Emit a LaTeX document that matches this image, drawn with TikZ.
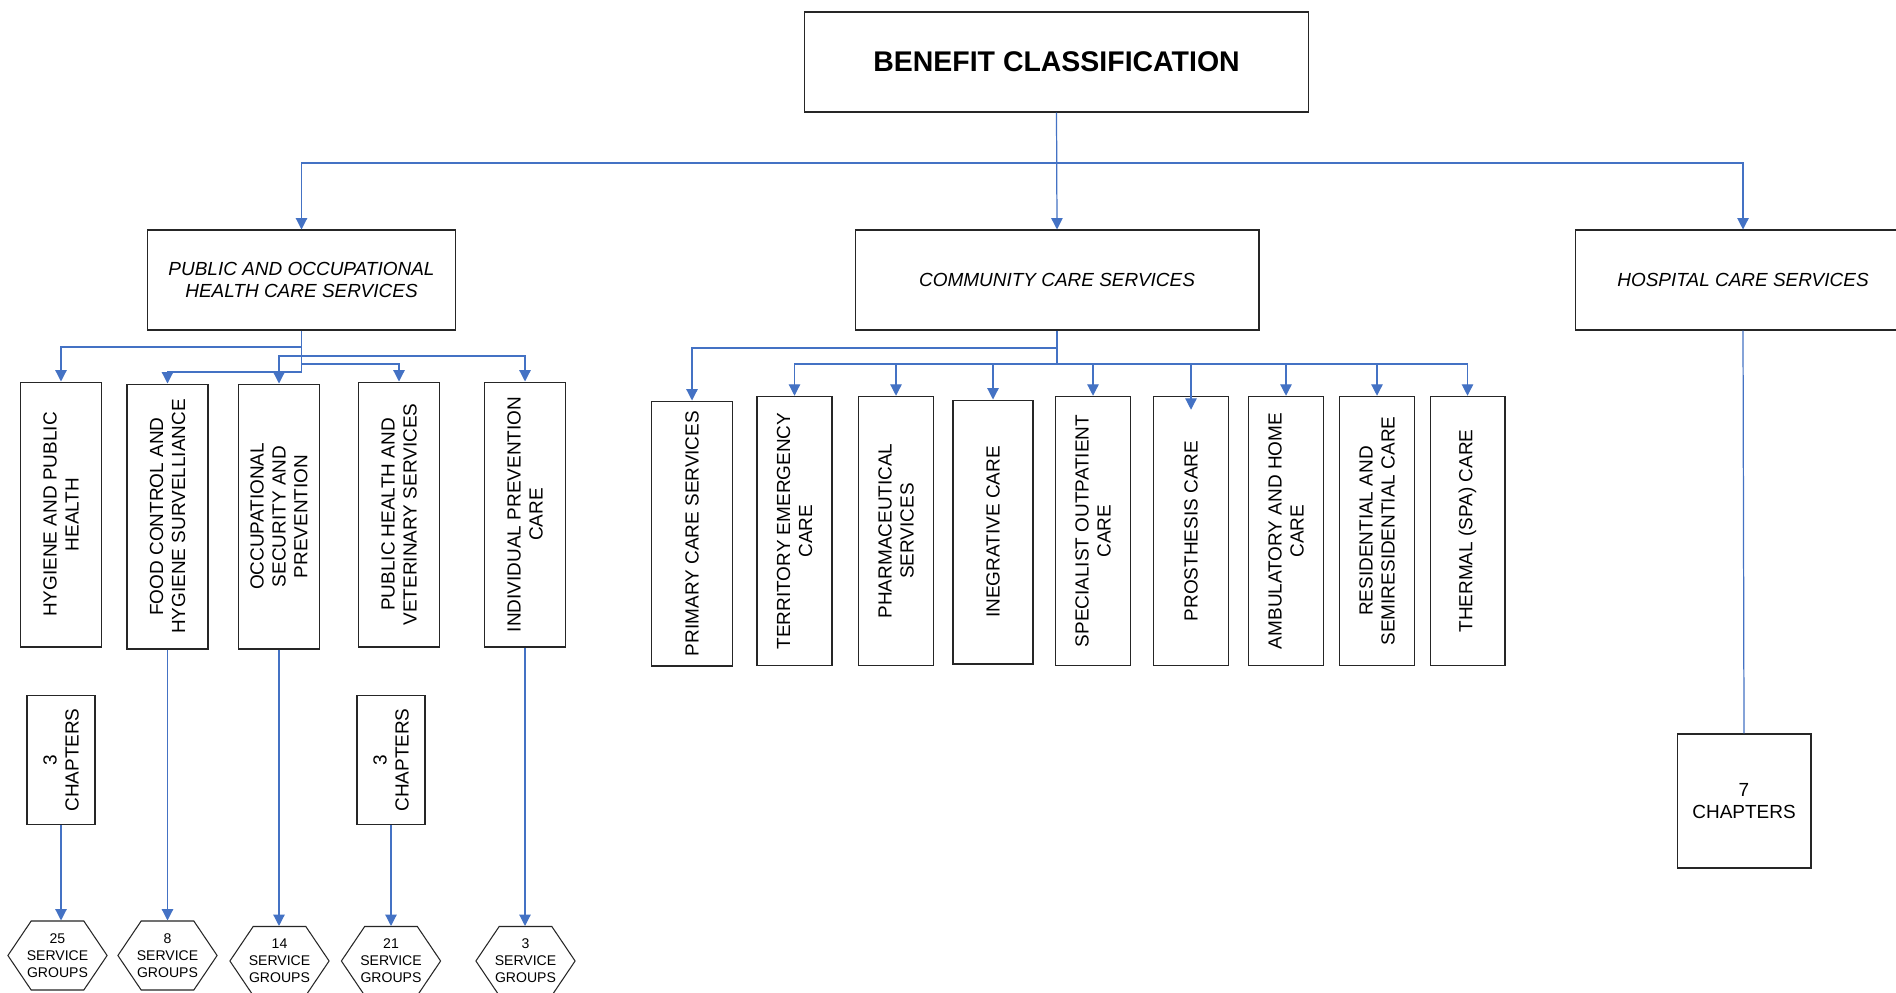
\documentclass[tikz,border=0pt]{standalone}
\usepackage{fontspec}
\setmainfont{Liberation Sans}
\usetikzlibrary{arrows.meta,shapes.symbols}
\definecolor{lnblue}{HTML}{4472C4}

\begin{document}
\begin{tikzpicture}[x=0.02cm, y=-0.02cm, every node/.style={font=\fontsize{10.8}{12.5}\selectfont, align=center, inner sep=1pt}, >={Triangle[length=6.5pt, width=6.5pt]},
	b/.style={rectangle, draw=black!85, line width=0.6pt},
	v/.style={b, rotate=90},
	it/.style={font=\itshape\fontsize{10.8}{13}\selectfont},
	hx/.style={signal, signal to=east and west, signal pointer angle=112, draw=black!85, line width=0.6pt, minimum height=1.38cm, inner xsep=-2.5pt, inner ysep=0pt, font=\fontsize{8}{9.6}\selectfont},
	c/.style={draw=lnblue, line width=0.7pt},
	ca/.style={c, ->}]
	\useasboundingbox (0,0) rectangle (1896,993);
	\clip (0,0) rectangle (1896,993);
	\fill[white] (0,0) rectangle (1896,993);
	\node (top) [b, minimum width=10.1cm, minimum height=2cm, font=\bfseries\fontsize{16.2}{19}\selectfont] at (1056.5,62) {BENEFIT CLASSIFICATION};
	\node (pub) [b, it, minimum width=6.16cm, minimum height=2cm] at (301.5,280) {PUBLIC AND OCCUPATIONAL\\ HEALTH CARE SERVICES};
	\node (com) [b, it, minimum width=8.08cm, minimum height=2cm] at (1057,280) {COMMUNITY CARE SERVICES};
	\node (hos) [b, it, minimum width=6.72cm, minimum height=2cm] at (1743,280) {HOSPITAL CARE SERVICES};
	\coordinate (t1) at (1057,163);
	\draw[ca] (top.south) -- (com.north);
	\draw[ca] (t1) -| (pub.north);
	\draw[ca] (t1) -| (hos.north);
	\node (hyg) [v, minimum width=5.3cm, minimum height=1.62cm] at (61,514.5) {HYGIENE AND PUBLIC\\ HEALTH};
	\node (food) [v, minimum width=5.3cm, minimum height=1.62cm] at (167.5,516.5) {FOOD CONTROL AND\\ HYGIENE SURVELLIANCE};
	\node (occ) [v, minimum width=5.3cm, minimum height=1.62cm] at (279,516.5) {OCCUPATIONAL\\ SECURITY AND\\ PREVENTION};
	\node (phv) [v, minimum width=5.3cm, minimum height=1.62cm] at (399,514.5) {PUBLIC HEALTH AND\\ VETERINARY SERVICES};
	\node (ind) [v, minimum width=5.3cm, minimum height=1.62cm] at (525,514.5) {INDIVIDUAL PREVENTION\\ CARE};
	\coordinate (p1) at (301.5,347);
	\coordinate (p2) at (301.5,356);
	\coordinate (p3) at (301.5,364);
	\coordinate (p4) at (301.5,372);
	\draw[c] (pub.south) -- (p4);
	\draw[ca] (p1) -| (hyg.east);
	\draw[ca] (p4) -| (food.east);
	\draw[ca] (p2) -| (occ.east);
	\draw[ca] (p3) -| (phv.east);
	\draw[ca] (p2) -| (ind.east);
	\node (chA) [v, minimum width=2.57cm, minimum height=1.36cm] at (61,760) {3\\ CHAPTERS};
	\node (chB) [v, minimum width=2.57cm, minimum height=1.36cm] at (391,760) {3\\ CHAPTERS};
	\node (hA) [hx] at (57.5,955.5) {25\\ SERVICE\\ GROUPS};
	\node (hB) [hx] at (167.5,955.5) {8\\ SERVICE\\ GROUPS};
	\node (hC) [hx] at (279.5,961) {14\\ SERVICE\\ GROUPS};
	\node (hD) [hx] at (391,961) {21\\ SERVICE\\ GROUPS};
	\node (hE) [hx] at (525.5,961) {3\\ SERVICE\\ GROUPS};
	\draw[ca] (chA.west) -- (chA.west |- hA.north);
	\draw[ca] (food.west) -- (food.west |- hB.north);
	\draw[ca] (occ.west) -- (occ.west |- hC.north);
	\draw[ca] (chB.west) -- (chB.west |- hD.north);
	\draw[ca] (ind.west) -- (ind.west |- hE.north);
	\node (prim) [v, minimum width=5.3cm, minimum height=1.62cm] at (692,533.5) {PRIMARY CARE SERVICES};
	\node (terr) [v, minimum width=5.39cm, minimum height=1.5cm] at (794.5,531) {TERRITORY EMERGENCY\\ CARE};
	\node (pharm) [v, minimum width=5.39cm, minimum height=1.5cm] at (896,531) {PHARMACEUTICAL\\ SERVICES};
	\node (integ) [v, minimum width=5.28cm, minimum height=1.6cm] at (993,532) {INEGRATIVE CARE};
	\node (spec) [v, minimum width=5.39cm, minimum height=1.5cm] at (1093,531) {SPECIALIST OUTPATIENT\\ CARE};
	\node (pros) [v, minimum width=5.39cm, minimum height=1.5cm] at (1191,531) {PROSTHESIS CARE};
	\node (ambu) [v, minimum width=5.39cm, minimum height=1.5cm] at (1286,531) {AMBULATORY AND HOME\\ CARE};
	\node (resi) [v, minimum width=5.39cm, minimum height=1.5cm] at (1377,531) {RESIDENTIAL AND\\ SEMIRESIDENTIAL CARE};
	\node (therm) [v, minimum width=5.39cm, minimum height=1.5cm] at (1467.5,531) {THERMAL (SPA) CARE};
	\coordinate (k1) at (1057,348);
	\coordinate (k2) at (1057,364);
	\draw[c] (com.south) -- (k2);
	\draw[ca] (k1) -| (prim.east);
	\draw[ca] (k2) -| (terr.east);
	\draw[ca] (k2) -| (pharm.east);
	\draw[ca] (k2) -| (integ.east);
	\draw[ca] (k2) -| (spec.east);
	\draw[ca, shorten >=-0.28cm] (k2) -| (pros.east);
	\draw[ca] (k2) -| (ambu.east);
	\draw[ca] (k2) -| (resi.east);
	\draw[ca] (k2) -| (therm.east);
	\node (ch7) [b, minimum width=2.68cm, minimum height=2.68cm] at (1744,801) {7\\ CHAPTERS};
	\draw[c] (hos.south) -- (ch7.north);
\end{tikzpicture}
\end{document}
